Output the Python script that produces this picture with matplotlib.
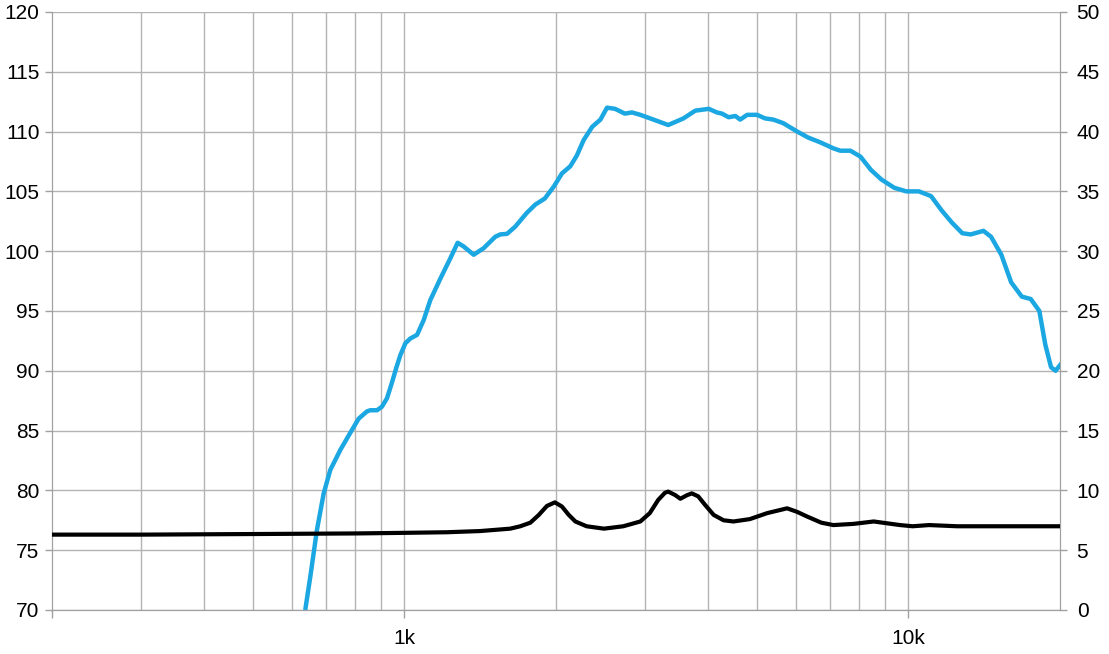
import matplotlib.pyplot as plt
from matplotlib.ticker import FixedLocator, NullLocator

plt.rcParams['font.family'] = ['Liberation Sans', 'DejaVu Sans']

# SPL curve (left axis, dB) - frequency in Hz
spl_freq = [636, 651, 671, 692, 713, 747, 781, 812, 843, 856, 883, 903, 924,
            945, 965, 982, 1005, 1028, 1060, 1093, 1126, 1179, 1234, 1276,
            1311, 1373, 1437, 1515, 1550, 1599, 1660, 1750, 1820, 1900, 1980,
            2055, 2135, 2200, 2270, 2360, 2450, 2525, 2620, 2740, 2830, 2940,
            3030, 3340, 3580, 3780, 4020, 4170, 4270, 4400, 4540, 4640, 4790,
            5010, 5200, 5400, 5650, 6020, 6330, 6690, 7100, 7330, 7680, 8040,
            8430, 8840, 9380, 9910, 10500, 11100, 11650, 12200, 12800, 13300,
            14100, 14600, 15300, 16000, 16800, 17500, 18200, 18700, 19200,
            19600, 20200]
spl_db = [70.0, 72.8, 76.7, 79.75, 81.7, 83.4, 84.8, 86.0, 86.6, 86.7, 86.7,
          87.0, 87.7, 89.0, 90.3, 91.3, 92.3, 92.7, 93.0, 94.25, 95.9, 97.7,
          99.4, 100.7, 100.4, 99.7, 100.25, 101.2, 101.4, 101.45, 102.05,
          103.2, 103.9, 104.4, 105.4, 106.5, 107.1, 108.0, 109.3, 110.4,
          111.0, 112.0, 111.9, 111.5, 111.6, 111.4, 111.2, 110.55, 111.1,
          111.75, 111.9, 111.6, 111.5, 111.2, 111.3, 111.0, 111.4, 111.4,
          111.1, 111.0, 110.7, 110.0, 109.5, 109.1, 108.6, 108.4, 108.4,
          107.9, 106.8, 106.0, 105.3, 105.0, 105.0, 104.6, 103.4, 102.4,
          101.5, 101.4, 101.7, 101.2, 99.7, 97.4, 96.2, 96.0, 95.0, 92.2,
          90.3, 90.0, 90.7]

# impedance curve (right axis, ohm)
imp_freq = [200, 300, 500, 800, 1000, 1215, 1415, 1623, 1699, 1779, 1849,
            1919, 1990, 2055, 2120, 2185, 2300, 2490, 2720, 2940, 3070, 3190,
            3290, 3340, 3450, 3530, 3640, 3720, 3830, 3950, 4110, 4300, 4500,
            4850, 5250, 5750, 6020, 6310, 6720, 7100, 7790, 8540, 9070, 9630,
            10200, 11000, 12500, 15000, 18000, 20200]
imp_ohm = [6.3, 6.3, 6.35, 6.4, 6.45, 6.5, 6.6, 6.8, 7.0, 7.3, 7.95, 8.7, 9.0,
           8.65, 7.95, 7.4, 7.0, 6.8, 7.0, 7.4, 8.1, 9.2, 9.8, 9.9, 9.6, 9.3,
           9.6, 9.75, 9.5, 8.8, 7.95, 7.5, 7.4, 7.6, 8.1, 8.5, 8.2, 7.8, 7.3,
           7.1, 7.2, 7.4, 7.25, 7.1, 7.0, 7.1, 7.0, 7.0, 7.0, 7.0]

left_ticks = [70, 75, 80, 85, 90, 95, 100, 105, 110, 115, 120]
right_ticks = [0, 5, 10, 15, 20, 25, 30, 35, 40, 45, 50]
x_major = [200, 1000, 10000]
x_labels = ['', '1k', '10k']
x_grid = [300, 400, 500, 600, 700, 800, 900, 1000, 2000, 3000, 4000, 5000,
          6000, 7000, 8000, 9000, 10000]

grid_c = '#b3b3b3'
fig = plt.figure(figsize=(11.09, 6.54), dpi=100)
ax = fig.add_axes([0.0469, 0.0673, 0.9089, 0.9144])
ax2 = ax.twinx()

ax.set_xscale('log')
ax.set_xlim(200, 20000)
ax.set_ylim(70, 120)
ax2.set_ylim(0, 50)

for f in x_grid:
    ax.axvline(f, color=grid_c, lw=1, zorder=0)
for v in left_ticks:
    ax.axhline(v, color=grid_c, lw=1, zorder=0)

ax.plot(spl_freq, spl_db, color='#1ba7e1', lw=3.2, solid_capstyle='butt',
        solid_joinstyle='round', zorder=3)
ax2.plot(imp_freq, imp_ohm, color='black', lw=3.0, solid_joinstyle='round',
         zorder=3)

ax.xaxis.set_major_locator(FixedLocator(x_major))
ax.xaxis.set_minor_locator(NullLocator())
ax.set_xticklabels(x_labels)
ax.set_yticks(left_ticks)
ax2.set_yticks(right_ticks)

for a in (ax, ax2):
    for s in a.spines.values():
        s.set_color('#a0a0a0')
    a.spines['top'].set_visible(False)
    a.tick_params(colors='#a0a0a0', labelcolor='black', labelsize=15, width=1)
ax.tick_params(axis='y', length=5, pad=4)
ax2.tick_params(axis='y', length=5, pad=7)
ax.tick_params(axis='x', length=6, pad=8)

fig.savefig('out.png', dpi=100)
